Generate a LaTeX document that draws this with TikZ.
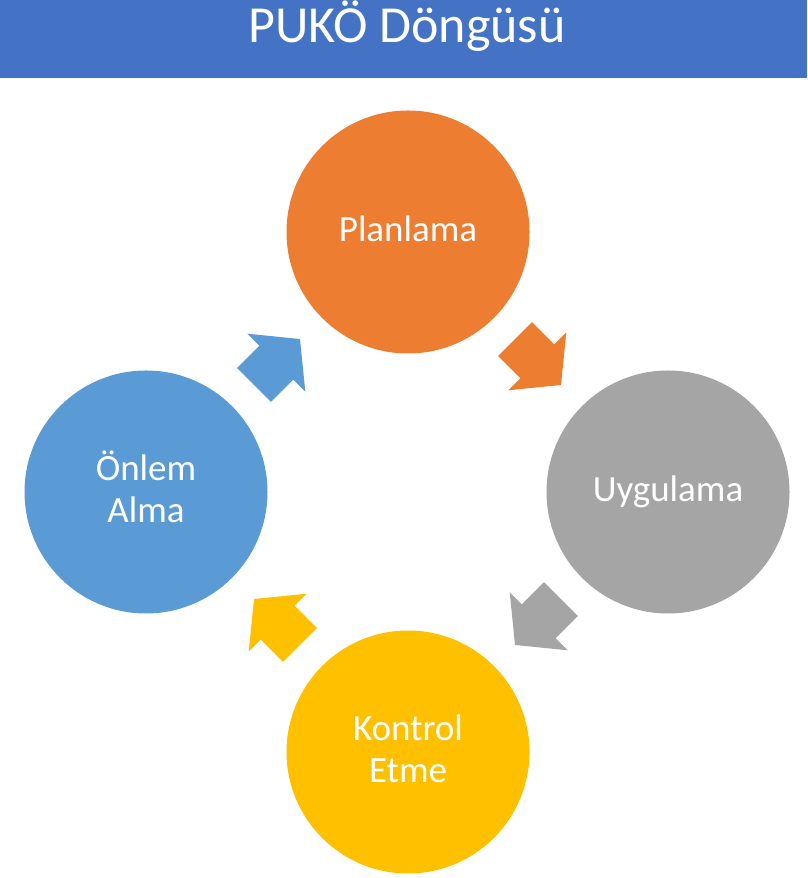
\documentclass[tikz,border=0pt]{standalone}
\usepackage{fontspec}
\setmainfont{Carlito}
\usetikzlibrary{calc}
\definecolor{barblue}{HTML}{4472C4}
\definecolor{planorange}{HTML}{ED7D31}
\definecolor{uyggray}{HTML}{A5A5A5}
\definecolor{konyellow}{HTML}{FFC000}
\definecolor{onlblue}{HTML}{5B9BD5}
\newcommand{\pukostrut}{\rule[-10pt]{0pt}{40pt}}
\newcommand{\pukoarrow}[3]{%
  \begin{scope}[shift={(#2)},rotate=#3]
    \fill[#1] (-32.5,-24) -- (-32.5,24) -- (-1,24) -- (-1,41) -- (32.5,0) -- (-1,-41) -- (-1,-24) -- cycle;
  \end{scope}}
\tikzset{
  stagecircle/.style={circle, minimum size=243pt, inner sep=0pt, draw=none,
    text=white, align=center, font=\fontsize{37}{42}\selectfont},
  titlebar/.style={fill=barblue, draw=none, minimum width=807pt, minimum height=78pt,
    inner sep=0pt, anchor=north west},
  titletext/.style={text=white, inner sep=0pt, anchor=base, font=\fontsize{52}{60}\selectfont}
}
\begin{document}
\begin{tikzpicture}[x=1pt,y=1pt]
\useasboundingbox (0,0) rectangle (807,878);
\node[titlebar] (bar) at (0,878) {};
\node[titletext] (title) at (407,835) {PUKÖ Döngüsü};
\node[stagecircle, fill=planorange] (plan) at (408,646) {\pukostrut Planlama};
\node[stagecircle, fill=uyggray] (uyg) at (668,386) {\pukostrut Uygulama};
\node[stagecircle, fill=konyellow] (kon) at (408,126) {\pukostrut Kontrol\\\pukostrut Etme};
\node[stagecircle, fill=onlblue] (onl) at (146,386) {\pukostrut Önlem\\\pukostrut Alma};
\coordinate (a1) at ($(plan)!0.5!(uyg)$);
\coordinate (a2) at ($(uyg)!0.5!(kon)$);
\coordinate (a3) at ($(kon)!0.5!(onl)$);
\coordinate (a4) at ($(onl)!0.5!(plan)$);
\pukoarrow{planorange}{a1}{-45}
\pukoarrow{uyggray}{a2}{-135}
\pukoarrow{konyellow}{a3}{135}
\pukoarrow{onlblue}{a4}{45}
\end{tikzpicture}
\end{document}
